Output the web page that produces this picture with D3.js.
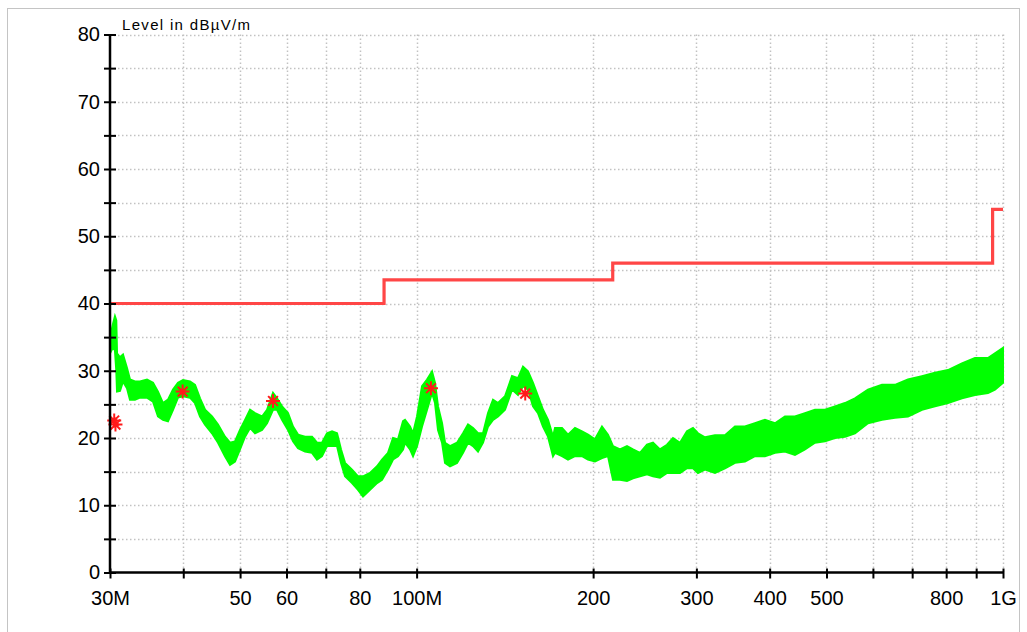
<!DOCTYPE html>
<html>
<head>
<meta charset="utf-8">
<script src="https://cdn.jsdelivr.net/npm/d3@7"></script>
<style>
    body { margin: 0; background: #fff; }
    svg { font-family: "Liberation Sans", Arial, sans-serif; }
</style>
</head>
<body>
<div id="output-container"></div>
<script>
const traceFreqs = [30.00, 30.36, 30.59, 30.75, 30.84, 31.20, 31.57, 32.07, 32.45, 33.09, 33.75, 34.69, 35.52, 36.22, 36.94, 37.67, 38.42, 39.18, 39.96, 41.07,
    41.89, 42.72, 43.57, 44.78, 45.85, 47.12, 48.06, 49.01, 49.98, 50.98, 51.99, 53.02, 54.50, 55.58, 56.90, 57.80, 58.95, 60.35, 61.55, 62.77,
    64.52, 66.32, 67.63, 68.97, 70.34, 71.74, 73.16, 74.32, 75.50, 77.60, 79.45, 81.02, 83.28, 85.60, 87.30, 89.38, 91.16, 92.96, 94.81, 95.55,
    97.45, 98.60, 100.16, 102.15, 104.18, 106.24, 107.50, 108.77, 110.50, 111.81, 114.02, 117.20, 119.99, 122.37, 124.80, 127.27, 129.79, 132.37, 134.99, 137.67,
    141.50, 145.45, 148.91, 151.87, 154.88, 157.95, 161.08, 164.27, 167.53, 170.85, 172.20, 176.99, 181.21, 186.26, 191.45, 196.01, 201.47, 207.08, 212.02, 216.22,
    222.25, 228.44, 233.89, 240.41, 247.11, 252.99, 260.04, 267.29, 273.66, 281.29, 289.12, 296.02, 301.88, 310.30, 322.72, 335.65, 349.09, 363.07, 377.60, 392.72,
    408.45, 424.81, 441.82, 459.51, 477.91, 497.05, 516.95, 537.65, 559.18, 588.47, 621.74, 654.29, 688.55, 727.45, 765.56, 805.64, 851.17, 895.74, 942.66, 968.90,
    1000];
const traceHigh = [35.0, 37.0, 38.1, 37.5, 32.6, 32.0, 32.4, 30.4, 28.7, 28.4, 28.4, 28.7, 28.2, 26.9, 25.2, 25.7, 27.2, 28.2, 28.6, 28.4,
    27.9, 25.9, 24.2, 23.2, 22.0, 20.2, 19.3, 19.5, 21.2, 22.7, 24.2, 23.7, 23.2, 24.2, 26.7, 25.9, 24.7, 23.7, 21.7, 20.5,
    20.2, 20.2, 19.3, 19.3, 20.7, 21.0, 20.7, 18.3, 16.3, 15.3, 14.3, 14.3, 14.8, 15.8, 16.8, 17.8, 20.0, 19.8, 22.5, 22.7,
    21.7, 20.7, 23.2, 27.7, 28.7, 29.9, 28.2, 24.7, 22.2, 19.3, 18.8, 19.3, 20.7, 22.0, 21.5, 20.7, 20.7, 23.7, 25.7, 25.2,
    26.2, 29.2, 28.9, 30.6, 29.9, 28.2, 26.2, 24.2, 22.7, 20.2, 21.5, 21.5, 20.5, 21.5, 21.0, 20.5, 19.8, 21.7, 20.5, 18.8,
    18.3, 18.8, 18.3, 17.8, 19.0, 19.3, 18.3, 19.0, 20.0, 19.3, 21.0, 21.5, 20.7, 20.1, 20.4, 20.4, 21.7, 21.7, 22.2, 22.7,
    22.2, 23.2, 23.2, 23.7, 24.2, 24.2, 24.7, 25.2, 25.9, 27.2, 27.9, 27.9, 28.7, 29.2, 29.7, 30.1, 31.1, 31.9, 31.9, 32.6,
    33.4];
const traceLow = [32.6, 33.5, 33.0, 30.0, 26.9, 27.0, 28.4, 27.4, 25.7, 25.7, 26.0, 26.0, 25.4, 23.2, 22.7, 22.5, 24.2, 26.0, 26.2, 26.0,
    25.2, 23.2, 22.0, 20.7, 19.3, 17.3, 16.0, 16.5, 18.3, 20.2, 21.5, 20.7, 21.2, 22.2, 24.2, 24.2, 22.7, 21.2, 19.5, 18.5,
    18.0, 17.8, 16.8, 17.3, 18.8, 18.8, 18.8, 16.3, 14.3, 13.3, 12.3, 11.3, 12.3, 13.3, 13.8, 15.3, 16.8, 17.3, 18.3, 19.3,
    18.3, 17.3, 18.8, 21.7, 24.2, 26.7, 25.2, 21.2, 19.3, 16.3, 15.8, 16.3, 17.8, 19.3, 18.8, 18.0, 19.3, 21.7, 22.7, 23.2,
    24.2, 27.2, 26.4, 27.7, 27.2, 24.7, 23.7, 21.7, 20.2, 17.3, 17.8, 17.3, 16.8, 17.3, 17.3, 16.8, 16.5, 17.0, 17.3, 13.8,
    13.8, 13.6, 14.0, 14.3, 14.6, 14.3, 14.1, 14.8, 14.8, 14.8, 15.5, 15.5, 14.8, 15.3, 14.8, 15.5, 16.3, 16.5, 17.3, 17.3,
    17.8, 18.0, 17.5, 18.3, 19.3, 19.5, 20.0, 20.2, 20.7, 22.2, 22.7, 23.0, 23.2, 24.2, 24.7, 25.2, 25.9, 26.4, 26.7, 27.2,
    28.2];

// limit line (step after each frequency)
const limitFreqs = [30, 88, 216, 960, 1000];
const limitLevels = [40, 43.5, 46, 54, 54];

// final measurement markers
const markerFreqs = [30.5, 30.65, 39.9, 56.9, 105.8, 153.2];
const markerLevels = [22.6, 22.0, 26.9, 25.5, 27.4, 26.6];

const xTicks = [30, 40, 50, 60, 70, 80, 100, 200, 300, 400, 500, 600, 700, 800, 900, 1000];
const xTickLabels = { 30: "30M", 50: "50", 60: "60", 80: "80", 100: "100M", 200: "200", 300: "300", 400: "400", 500: "500", 800: "800", 1000: "1G" };
const yTicks = d3.range(0, 81, 5);
const yTitle = "Level in dBµV/m";

const W = 1027, H = 632;
const plotLeft = 110, plotRight = 1003, plotTop = 34.5, plotBottom = 572.5;

const svg = d3.select("#output-container")
    .append("svg")
    .attr("width", W)
    .attr("height", H);

svg.append("rect")
    .attr("x", 7.5).attr("y", 8.5)
    .attr("width", 1012).attr("height", 640)
    .attr("fill", "none")
    .attr("stroke", "#c4c4c4");

const x = d3.scaleLog().domain([30, 1000]).range([plotLeft, plotRight]);
const y = d3.scaleLinear().domain([0, 80]).range([plotBottom, plotTop]);

// grid
const grid = svg.append("g").attr("stroke", "#c2c2c2").attr("stroke-width", 1.5).attr("stroke-dasharray", "1.5,2.5");
grid.selectAll(".gx")
    .data(xTicks.slice(1))
    .enter()
    .append("line")
    .attr("x1", d => Math.round(x(d)) + 0.5)
    .attr("x2", d => Math.round(x(d)) + 0.5)
    .attr("y1", plotTop)
    .attr("y2", plotBottom);
grid.selectAll(".gy")
    .data(yTicks.slice(1))
    .enter()
    .append("line")
    .attr("x1", plotLeft)
    .attr("x2", plotRight)
    .attr("y1", d => Math.round(y(d)) + 0.5)
    .attr("y2", d => Math.round(y(d)) + 0.5);

// limit
const limitData = limitFreqs.map((f, i) => [f, limitLevels[i]]);
svg.append("path")
    .datum(limitData)
    .attr("fill", "none")
    .attr("stroke", "#ff4646")
    .attr("stroke-width", 3.2)
    .attr("d", d3.line().x(d => x(d[0])).y(d => y(d[1])).curve(d3.curveStepAfter));

// measured trace as a band
const traceData = traceFreqs.map((f, i) => ({ f: f, hi: traceHigh[i], lo: traceLow[i] }));
svg.append("path")
    .datum(traceData)
    .attr("fill", "#00ff00")
    .attr("stroke", "#00ff00")
    .attr("stroke-width", 2)
    .attr("stroke-linejoin", "miter")
    .attr("d", d3.area().x(d => x(d.f)).y0(d => y(d.lo)).y1(d => y(d.hi)));

// asterisks
const markers = svg.append("g").attr("stroke", "#ff1a1a").attr("stroke-width", 2);
markerFreqs.forEach((f, i) => {
    const cx = x(f), cy = y(markerLevels[i]);
    const r = 7;
    const d = `M${cx - r},${cy}L${cx + r},${cy}M${cx},${cy - r}L${cx},${cy + r}` +
        `M${cx - r * 0.7},${cy - r * 0.7}L${cx + r * 0.7},${cy + r * 0.7}M${cx - r * 0.7},${cy + r * 0.7}L${cx + r * 0.7},${cy - r * 0.7}`;
    markers.append("path").attr("d", d);
});

// axes
const yAxis = svg.append("g")
    .attr("transform", `translate(${plotLeft},0)`)
    .call(d3.axisLeft(y).tickValues(yTicks).tickSize(6).tickPadding(4)
        .tickFormat(d => d % 10 === 0 ? d : ""));
yAxis.select(".domain").attr("d", `M0,${plotTop}V${plotBottom}`).attr("stroke-width", 2.5);
yAxis.selectAll(".tick line").attr("x1", 6).attr("x2", -6).attr("stroke-width", 2);
yAxis.selectAll("text").attr("font-size", 20).attr("font-family", "Liberation Sans, Arial, sans-serif").attr("fill", "#000");

const xAxis = svg.append("g")
    .attr("transform", `translate(0,${plotBottom})`)
    .call(d3.axisBottom(x).tickValues(xTicks).tickSize(6).tickPadding(12)
        .tickFormat(d => xTickLabels[d] || ""));
xAxis.select(".domain").attr("d", `M${plotLeft},0H${plotRight}`).attr("stroke-width", 2.5);
xAxis.selectAll(".tick line").attr("y1", -4).attr("y2", 6).attr("stroke-width", 2);
xAxis.selectAll("text").attr("font-size", 20).attr("font-family", "Liberation Sans, Arial, sans-serif").attr("fill", "#000");

svg.append("text")
    .attr("x", 122)
    .attr("y", 30)
    .attr("font-size", 15)
    .attr("textLength", 128)
    .attr("lengthAdjust", "spacing")
    .text(yTitle);
</script>
</body>
</html>
